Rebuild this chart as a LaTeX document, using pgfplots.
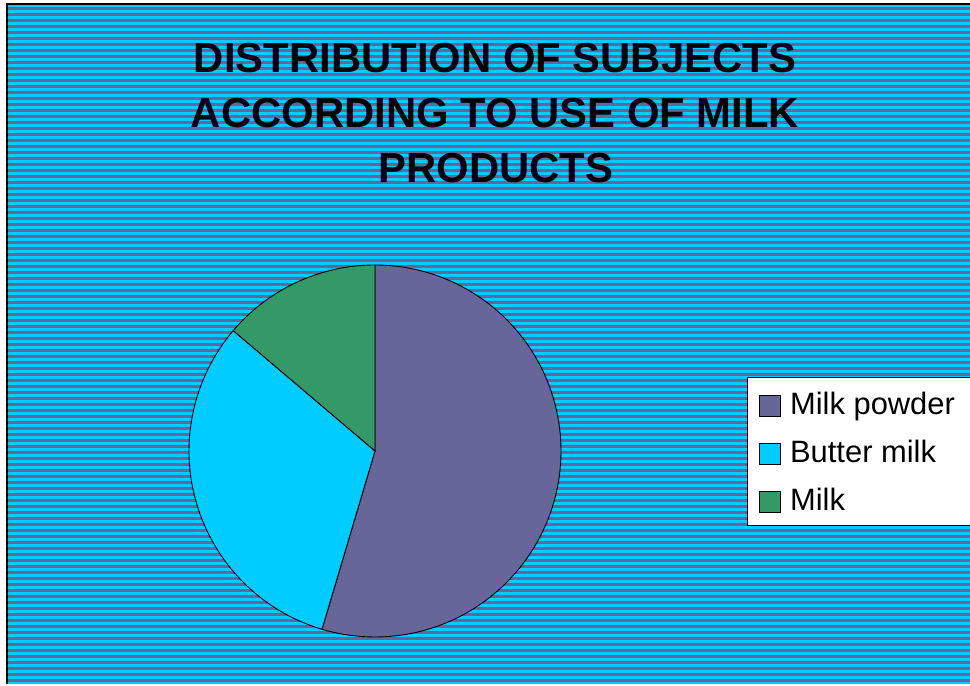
\documentclass[border=0pt]{standalone}
\usepackage{pgfplots}
\pgfplotsset{compat=1.18}
\usepackage{pgfplotstable}
\usepackage{fontspec}
\setmainfont{Liberation Sans}
\definecolor{mpurple}{HTML}{666699}
\definecolor{mcyan}{HTML}{00CCFF}
\definecolor{mgreen}{HTML}{339966}

\pgfplotstableread[col sep=comma,row sep=\\]{
label,value\\
Milk powder,54.6\\
Butter milk,31.6\\
Milk,13.8\\
}\piedata
\pgfplotstablegetelem{0}{value}\of\piedata \let\vA\pgfplotsretval
\pgfplotstablegetelem{1}{value}\of\piedata \let\vB\pgfplotsretval
\pgfplotstablegetelem{2}{value}\of\piedata \let\vC\pgfplotsretval
\pgfmathsetmacro\tot{\vA+\vB+\vC}
\pgfmathsetmacro\aO{90}
\pgfmathsetmacro\aA{\aO-360*(\vA/\tot)}
\pgfmathsetmacro\aB{\aA-360*(\vB/\tot)}
\pgfmathsetmacro\aC{\aB-360*(\vC/\tot)}

\begin{document}
\begin{tikzpicture}[x=1bp,y=1bp]
\useasboundingbox (0,0) rectangle (970,686);
\clip (0,0) rectangle (970,686);
\fill[white] (0,0) rectangle (970,686);
% background panel
\fill[mcyan] (6,2) rectangle (970,682);
\foreach \i in {0,...,112} {
  \fill[mpurple] (6,{679-6*\i}) rectangle (970,{676-6*\i});
}
\draw[black, line width=2bp] (6.5,2) -- (6.5,681.5) -- (970,681.5);
% title
\node[font=\fontsize{42}{50}\selectfont\bfseries, anchor=base, inner sep=0] at (495,{686-73}) {DISTRIBUTION OF SUBJECTS};
\node[font=\fontsize{42}{50}\selectfont\bfseries, anchor=base, inner sep=0] at (495,{686-128}) {ACCORDING TO USE OF MILK};
\node[font=\fontsize{42}{50}\selectfont\bfseries, anchor=base, inner sep=0] at (496,{686-183}) {PRODUCTS};
\begin{axis}[
  at={(189bp,49bp)}, anchor=south west,
  width=372bp, height=372bp, scale only axis,
  xmin=-1, xmax=1, ymin=-1, ymax=1,
  hide axis, clip=false,
  legend cell align=left,
  legend style={
    at={(1.5,0.699)}, anchor=north west,
    draw=black, line width=0.75bp, fill=white,
    font=\fontsize{31}{31}\selectfont,
    inner xsep=12bp, inner ysep=7bp,
    row sep=10bp, column sep=7bp,
    nodes={inner sep=2bp, text height=28bp, text depth=6bp},
  },
  legend image code/.code={
    \draw[#1, draw=black, line width=0.75bp] (0bp,-13bp) rectangle (21bp,8bp);
  },
]
\filldraw[fill=mpurple, draw=black, line width=0.9bp, line join=round]
  (0,0) -- plot[domain=\aO:\aA, samples=120] ({cos(\x)},{sin(\x)}) -- cycle;
\filldraw[fill=mcyan, draw=black, line width=0.9bp, line join=round]
  (0,0) -- plot[domain=\aA:\aB, samples=80] ({cos(\x)},{sin(\x)}) -- cycle;
\filldraw[fill=mgreen, draw=black, line width=0.9bp, line join=round]
  (0,0) -- plot[domain=\aB:\aC, samples=40] ({cos(\x)},{sin(\x)}) -- cycle;
\addlegendimage{fill=mpurple}
\addlegendentry{\makebox[200bp][l]{Milk powder}}
\addlegendimage{fill=mcyan}
\addlegendentry{Butter milk}
\addlegendimage{fill=mgreen}
\addlegendentry{Milk}
\end{axis}
\end{tikzpicture}
\end{document}
